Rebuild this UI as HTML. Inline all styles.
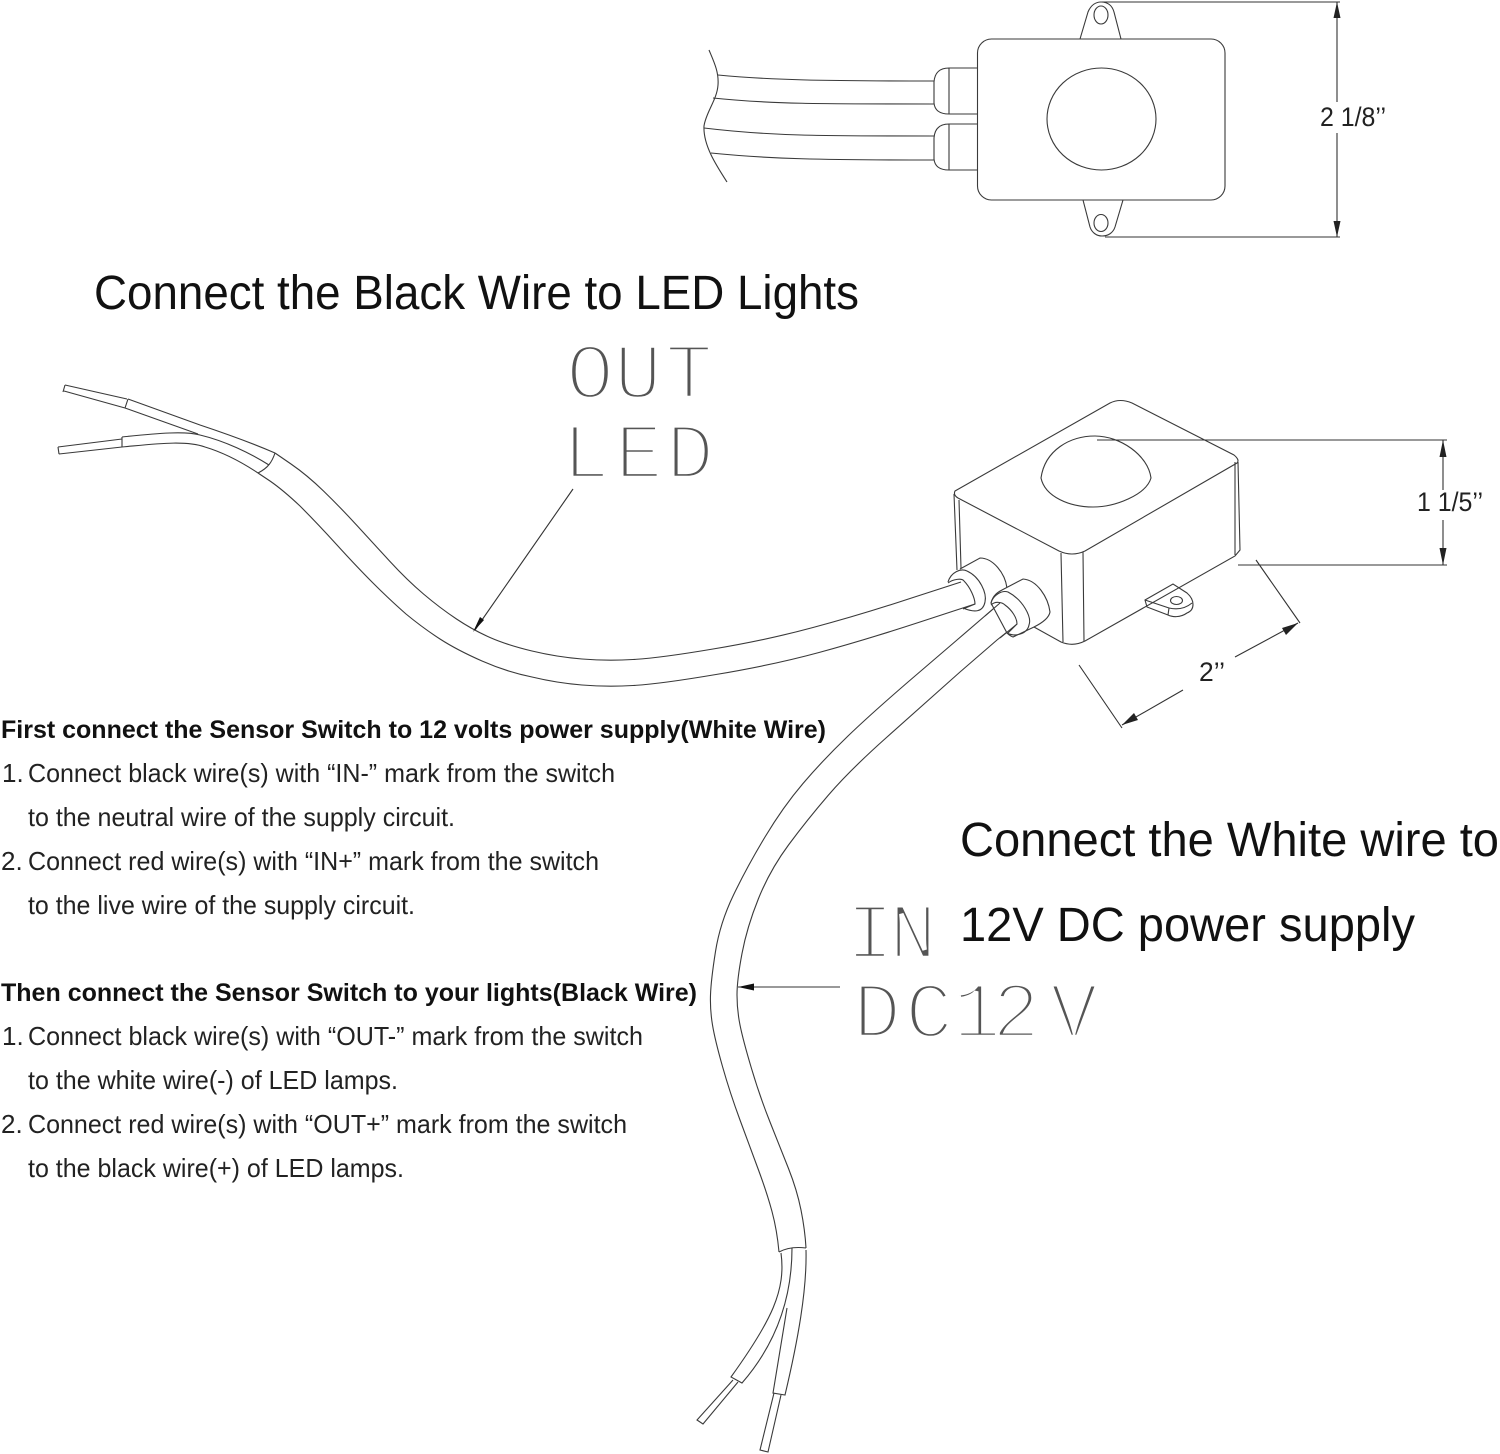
<!DOCTYPE html>
<html><head><meta charset="utf-8"><style>
html,body{margin:0;padding:0;background:#fff}
svg{display:block}
.l{fill:none;stroke:#3a3a3a;stroke-width:1.1}
.w{fill:#fff;stroke:#3a3a3a;stroke-width:1.1}
.d{fill:none;stroke:#333;stroke-width:1.1}
text{font-family:"Liberation Sans",sans-serif;fill:#111}
.b{font-size:25px;font-weight:bold}
.t{font-size:26px;fill:#222}
.h{font-size:48px}
.dim{font-size:27px;fill:#222}
.m{font-family:"Liberation Mono",monospace;font-size:80px;fill:#555;stroke:#fff;stroke-width:4.4}
</style></head><body>
<svg width="1500" height="1454" viewBox="0 0 1500 1454" xmlns="http://www.w3.org/2000/svg">
<rect width="1500" height="1454" fill="#fff"/>
<!-- top view -->
<g class="l">
<path d="M709,50 C714,62 719,72 718,85 C717,100 706,112 704,126 C703,145 716,165 727,182"/>
<path d="M718,75 C770,80 820,81 934,81"/>
<path d="M713,98 C770,104 820,104 934,104"/>
<path d="M704,128 C770,136 820,136 934,136"/>
<path d="M711,153 C770,159 820,160 934,160"/>
<path d="M977,68 H949 Q935,68 934,82 V103 Q935,114 949,114 H977 M949,68 V114"/>
<path d="M977,124 H949 Q935,124 934,138 V159 Q935,170 949,170 H977 M949,124 V170"/>
<rect x="977.5" y="39" width="247.500" height="161" rx="14"/>
<ellipse cx="1101.500" cy="119" rx="54.500" ry="51"/>
<path d="M1080,39 L1088,12 C1091,5 1096,2 1101,2 C1107,2 1112,5 1114,12 L1121,39"/>
<ellipse cx="1101" cy="15" rx="7" ry="9"/>
<path d="M1083,200 L1090,227 C1092,233 1097,236 1102,236 C1108,236 1113,233 1115,227 L1123,200"/>
<ellipse cx="1101" cy="223" rx="7" ry="8.500"/>
</g>
<path class="d" d="M1102,2 H1340 M1105,237 H1340 M1337,2 V102 M1337,133 V237"/>
<path d="M1337,2 L1333.500,18 H1340.500Z M1337,237 L1333.500,221 H1340.500Z" fill="#222"/>
<text class="dim" x="1320" y="126" textLength="66" lengthAdjust="spacingAndGlyphs">2 1/8’’</text>
<!-- black wire -->
<g class="l">
<path d="M275,453 L291,464 Q307,475 323.500,491 Q340,507 356.500,525 Q373,543 390,561.500 Q407,580 423.500,594 Q440,608 456.500,619 Q473,630 490,637.500 Q507,645 532,651 Q557,657 582,659 Q607,661 633,659.500 Q660,658 713,649 Q767,640 813,627.500 Q860,615 910,598.500 L961,582"/>
<path d="M258,473 L270,481 Q283,490 300,506 Q317,523 337,545 Q357,567 373,583 Q390,600 406,614 Q423,628 440,639 Q457,650 482,661 Q507,672 532,677 Q557,683 582,685 Q607,687 633,685.500 Q660,684 716,674.500 Q773,665 819,652.500 Q865,640 920,622 L975,604"/>
<path d="M128,399 L200,425 Q245,440 275,453"/>
<path d="M125,408 L198,434"/>
<path d="M275,453 C272,462 268,468 258,473"/>
<path d="M122,437 C160,433 185,431 200,435 C225,441 250,453 269,465"/>
<path d="M122,447 C155,444 185,440 205,447 C225,453 243,463 258,473"/>
<path d="M128,399 L125,408 M122,437 L122,447"/>
<path d="M65,385 L127,399 M64,391 L125,408 M65,385 L63,392"/>
<path d="M58,447 L122,439 M59,454 L122,447 M58,447 L59,454"/>
</g>
<!-- white wire -->
<g class="l">
<path d="M1000,603 L957,640 L915,676 Q873,712 848,736 Q823,760 803,783.500 Q783,807 765,837 Q747,867 733.500,895 Q720,923 715.500,951.500 Q711,980 710.500,995 Q710,1010 712.500,1025 Q715,1040 722.500,1066.500 Q730,1093 740,1120 Q750,1147 758.500,1170 Q767,1193 772,1211.500 Q777,1230 779,1252"/>
<path d="M1017,624 L997,640 L960,672 Q923,705 886.500,737.500 Q850,770 828.500,795 Q807,820 788.500,845 Q770,870 758.500,898.500 Q747,927 742,953.500 Q737,980 737,995 Q737,1010 740,1025 Q743,1040 751.500,1068.500 Q760,1097 770,1122 Q780,1147 788.500,1168.500 Q797,1190 801,1210 Q805,1230 806,1248"/>
<path d="M779,1252 Q790,1246 806,1248"/>
<path d="M781,1253 C786,1290 772,1320 731,1377 L742,1383 C775,1345 792,1300 792,1248"/>
<path d="M787,1308 L773,1393 L785,1395 C798,1340 807,1290 806,1250"/>
<path d="M733,1380 L697,1420 L703,1424 L738,1382"/>
<path d="M774,1393 L760,1450 L768,1452 L781,1395"/>
</g>
<!-- iso box -->
<g class="l">
<path d="M955,491 L1110,403 Q1120,398 1132,403 L1234,455 Q1240,460 1237,463 L1085,551 Q1072,557 1059,551 L958,498 Q953,495 955,491Z"/>
<path d="M1041,478 C1045,450 1070,436 1095,436 C1120,436 1148,455 1151,478 C1146,495 1115,507 1093,507 C1070,507 1045,497 1041,478Z"/>
<path d="M1235,462 L1235,555 M1238,462 L1240,550 L1235,556 L1085,641 Q1073,647 1061,642 L1034,627"/>
<path d="M1061,553 L1063,642 M1083,552 L1084,641"/>
<path d="M954,494 L957,570 M959,500 L961,568"/>
<path d="M1145,600 L1173,584 L1187,593 C1195,600 1195,610 1187,613 C1180,618 1172,617 1168,615 L1147,607 Z M1145,600 L1169,608 L1168,615 M1169,608 C1178,610 1186,608 1192,603"/>
<ellipse cx="1176.500" cy="600.500" rx="6" ry="4"/>
<!-- grommet 1 -->
<path d="M960,569 L980,558 C993,558 1005,573 1007,588"/>
<path d="M948,582 C951,572 961,568 967,571 C980,577 987,593 985,602 C983,612 975,613 963,608"/>
<path d="M948,583 C953,579 962,578 964,581 C970,587 975,598 975,604 L963,609"/>
<!-- grommet 2 -->
<path class="w" d="M1002,590 L1023,579 C1037,580 1048,597 1050,612 C1049,618 1042,623 1034,627 L1013,637 C1010,636 1008,634 1007,633 L991,603 C993,595 998,592 1002,590Z"/>
<path d="M991,603 C993,595 1002,590 1008,592 C1023,600 1032,617 1029,625 C1027,635 1013,637 1007,633"/>
<path d="M991,605 C995,601 1002,602 1005,605 C1012,610 1017,618 1017,624 L1008,633"/>
<path d="M1000,603 L985,616"/>
<path d="M1017,624 L1000,638"/>
</g>
<!-- dimensions iso -->
<path class="d" d="M1097,440 H1447 M1238,565 H1447 M1443,440 V490 M1443,520 V565"/>
<path d="M1443,440 L1439.500,457 H1446.500Z M1443,565 L1439.500,548 H1446.500Z" fill="#222"/>
<text class="dim" x="1417" y="511" textLength="66" lengthAdjust="spacingAndGlyphs">1 1/5’’</text>
<path class="d" d="M1256,560 L1300,623 M1079,665 L1122,728 M1122,725 L1183,690 M1235,657 L1298,623"/>
<path d="M1298,623 L1282,628 L1286,635Z M1122,725 L1138,720 L1134,713Z" fill="#222"/>
<text class="dim" x="1199" y="681" textLength="26" lengthAdjust="spacingAndGlyphs">2’’</text>
<!-- leader arrows -->
<path class="d" d="M573,489 L475,630 M840,987 H738"/>
<path d="M473,632 L480,617 L484,620Z M738,987 L754,983.500 V990.500Z" fill="#111"/>
<!-- stencil labels -->
<text class="m" x="566 614 665" y="398">OUT</text>
<text class="m" x="562 615 666" y="478">LED</text>
<text class="m" x="846 889" y="958">IN</text>
<text class="m" x="853 905 953 992 1050" y="1037">DC12V</text>
<!-- headings -->
<text class="h" x="94" y="309" textLength="765" lengthAdjust="spacingAndGlyphs">Connect the Black Wire to LED Lights</text>
<text class="h" x="960" y="856" textLength="539" lengthAdjust="spacingAndGlyphs">Connect the White wire to</text>
<text class="h" x="960" y="941" textLength="455" lengthAdjust="spacingAndGlyphs">12V DC power supply</text>
<!-- body -->
<text class="b" x="1" y="738" textLength="825" lengthAdjust="spacingAndGlyphs">First connect the Sensor Switch to 12 volts power supply(White Wire)</text>
<text class="t" x="2" y="782">1.</text>
<text class="t" x="28" y="782" textLength="587" lengthAdjust="spacingAndGlyphs">Connect black wire(s) with “IN-” mark from the switch</text>
<text class="t" x="28" y="826" textLength="427" lengthAdjust="spacingAndGlyphs">to the neutral wire of the supply circuit.</text>
<text class="t" x="1" y="870">2.</text>
<text class="t" x="28" y="870" textLength="571" lengthAdjust="spacingAndGlyphs">Connect red wire(s) with “IN+” mark from the switch</text>
<text class="t" x="28" y="914" textLength="387" lengthAdjust="spacingAndGlyphs">to the live wire of the supply circuit.</text>
<text class="b" x="1" y="1001" textLength="696" lengthAdjust="spacingAndGlyphs">Then connect the Sensor Switch to your lights(Black Wire)</text>
<text class="t" x="2" y="1045">1.</text>
<text class="t" x="28" y="1045" textLength="615" lengthAdjust="spacingAndGlyphs">Connect black wire(s) with “OUT-” mark from the switch</text>
<text class="t" x="28" y="1089" textLength="370" lengthAdjust="spacingAndGlyphs">to the white wire(-) of LED lamps.</text>
<text class="t" x="1" y="1133">2.</text>
<text class="t" x="28" y="1133" textLength="599" lengthAdjust="spacingAndGlyphs">Connect red wire(s) with “OUT+” mark from the switch</text>
<text class="t" x="28" y="1177" textLength="376" lengthAdjust="spacingAndGlyphs">to the black wire(+) of LED lamps.</text>
</svg>
</body></html>
